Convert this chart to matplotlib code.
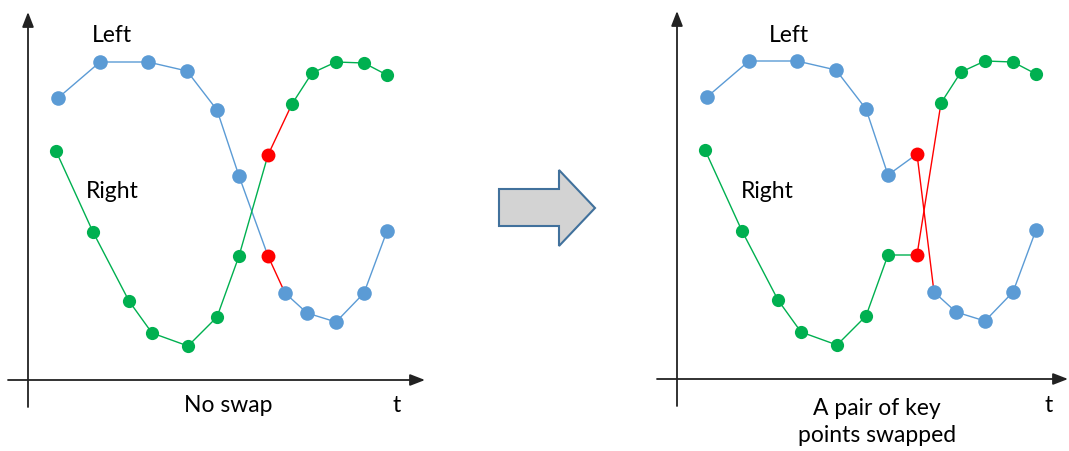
import matplotlib.pyplot as plt
from matplotlib.patches import Polygon

# time positions of the key points (same for both panels)
t_left = [30, 72, 120, 159, 189, 211, 240, 257, 279, 308, 336, 359]
t_right = [28, 65, 101, 124, 160, 189, 211, 240, 264, 284, 308, 336, 359]

# values: "Left" (blue) and "Right" (green), no swap
y_left = [282, 318, 318, 309, 270, 204, 124, 87, 67, 58, 87, 149]
y_right = [229, 148, 79, 47, 34, 63, 124, 225, 276, 307, 318, 317, 305]

# the same with one pair of key points swapped
y_left_sw = [282, 318, 318, 309, 270, 204, 225, 87, 67, 58, 87, 149]
y_right_sw = [229, 148, 79, 47, 34, 63, 124, 124, 276, 307, 318, 317, 305]

i_left = 6    # index of the swapped point in the blue series
i_right = 7   # index of the swapped point in the green series

blue = '#5B9BD5'
green = '#00B050'
red = '#FF0000'
W, H = 1069, 451
fs = 16.5

plt.rcParams['font.family'] = ['Lato', 'DejaVu Sans']
fig = plt.figure(figsize=(W / 100, H / 100), dpi=100)


def draw_series(ax, t, y, k, color):
    ax.plot(t[:k + 1], y[:k + 1], color=color, lw=1, zorder=2)
    ax.plot(t[k:k + 2], y[k:k + 2], color=red, lw=1, zorder=2)
    ax.plot(t[k + 1:], y[k + 1:], color=color, lw=1, zorder=2)
    ms = 10.5 if color == blue else 9.5
    pts = [j for j in range(len(t)) if j != k]
    ax.plot([t[j] for j in pts], [y[j] for j in pts], 'o', color=color,
            ms=ms, mec='none', zorder=3)
    ax.plot(t[k], y[k], 'o', color=red, ms=10, mec='none', zorder=4)


def draw_axes(ax, xend):
    arr = dict(arrowstyle='-|>,head_length=0.9,head_width=0.35',
               color='#222222', lw=1.3, shrinkA=0, shrinkB=0)
    ax.annotate('', xy=(xend, 0), xytext=(-20, 0), arrowprops=arr)
    ax.annotate('', xy=(0, 368), xytext=(0, -27), arrowprops=arr)


# left panel: origin at pixel (28, 380)
ax1 = fig.add_axes([0, 0, 469 / W, 1])
ax1.set_xlim(-28, 441)
ax1.set_ylim(-71, 380)
ax1.axis('off')
draw_axes(ax1, 397)
draw_series(ax1, t_left, y_left, i_left, blue)
draw_series(ax1, t_right, y_right, i_right, green)
ax1.text(84, 345, 'Left', fontsize=fs, ha='center', va='center')
ax1.text(84, 188, 'Right', fontsize=fs, ha='center', va='center')
ax1.text(200, -25, 'No swap', fontsize=fs, ha='center', va='center')
ax1.text(369, -25, 't', fontsize=fs, ha='center', va='center')

# right panel: origin at pixel (677, 379)
ax2 = fig.add_axes([649 / W, 0, 420 / W, 1])
ax2.set_xlim(-28, 392)
ax2.set_ylim(-72, 379)
ax2.axis('off')
draw_axes(ax2, 391)
draw_series(ax2, t_left, y_left_sw, i_left, blue)
draw_series(ax2, t_right, y_right_sw, i_right, green)
ax2.text(112, 344, 'Left', fontsize=fs, ha='center', va='center')
ax2.text(90, 187, 'Right', fontsize=fs, ha='center', va='center')
ax2.text(200, -43, 'A pair of key\npoints swapped', fontsize=fs,
         ha='center', va='center', linespacing=1.3)
ax2.text(372, -26, 't', fontsize=fs, ha='center', va='center')

# big block arrow between the panels
pts = [(499, 189), (559, 189), (559, 170), (595, 208),
       (559, 246), (559, 226), (499, 226)]
pts = [(x / W, 1 - y / H) for x, y in pts]
fig.add_artist(Polygon(pts, closed=True, facecolor='#D3D3D3',
                       edgecolor='#41719C', lw=1.5,
                       transform=fig.transFigure))

fig.savefig('out.png', dpi=100)
